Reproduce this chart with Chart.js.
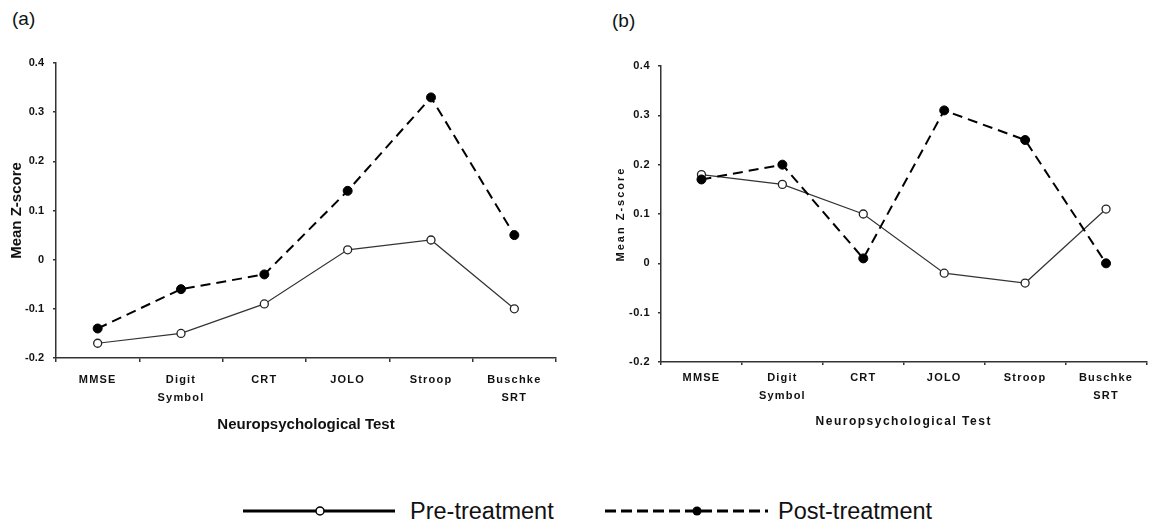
<!DOCTYPE html>
<html>
<head>
<meta charset="utf-8">
<script src="https://cdn.jsdelivr.net/npm/chart.js@4.4.1/dist/chart.umd.min.js"></script>
<style>
  body { margin: 0; background: #fff; width: 1152px; height: 529px; overflow: hidden; position: relative;
         font-family: "Liberation Sans", Arial, sans-serif; color: #111; }
  canvas { position: absolute; top: 0; }
  #ca { left: 0; }
  #cb { left: 576px; }
  .tag { position: absolute; font-size: 19px; }
  #legend { position: absolute; left: 0; top: 490px; }
</style>
</head>
<body>
<div class="tag" style="left:12px;top:8px">(a)</div>
<div class="tag" style="left:612px;top:10px">(b)</div>
<canvas id="ca" width="576" height="460"></canvas>
<canvas id="cb" width="576" height="460"></canvas>
<svg id="legend" width="1152" height="39"></svg>
<script>
// Две панели (a) и (b): средние Z-оценки до и после лечения
const TESTS = ["MMSE", ["Digit", "Symbol"], "CRT", "JOLO", "Stroop", ["Buschke", "SRT"]];
const SERIES = ["Pre-treatment", "Post-treatment"];
const PRE_A = [-0.17, -0.15, -0.09, 0.02, 0.04, -0.10];
const POST_A = [-0.14, -0.06, -0.03, 0.14, 0.33, 0.05];
const PRE_B = [0.18, 0.16, 0.10, -0.02, -0.04, 0.11];
const POST_B = [0.17, 0.20, 0.01, 0.31, 0.25, 0.00];
const Y_MIN = -0.2, Y_MAX = 0.4, Y_STEP = 0.1;
const X_TITLE = "Neuropsychological Test";
const Y_TITLE = "Mean Z-score";

const FONT = '"Liberation Sans", Arial, sans-serif';
const INK = "#111", AXIS = "#333";
const H = 460;

// letterSpacing для подписей/заголовков отдельных осей
function wrap(scale, fn, px) {
  const orig = scale[fn];
  scale[fn] = function (...a) {
    this.ctx.letterSpacing = (px || 0) + "px";
    orig.apply(this, a);
    this.ctx.letterSpacing = "0px";
  };
}
const spacing = {
  id: "spacing",
  beforeDraw(chart, args, opts) {
    for (const id of ["x", "y"]) {
      const s = chart.scales[id], cfg = opts[id];
      if (!s || !cfg || s._spaced) continue;
      s._spaced = true;
      wrap(s, "drawLabels", cfg.labels);
      wrap(s, "drawTitle", cfg.title);
    }
  }
};

function panel(id, pre, post, L) {
  return new Chart(document.getElementById(id), {
    type: "line",
    data: {
      labels: TESTS,
      datasets: [
        { label: SERIES[1], data: post, borderColor: "#000", borderWidth: 2, borderDash: [10, 6],
          pointRadius: 4.5, pointBackgroundColor: "#000", pointBorderColor: "#000", pointBorderWidth: 1, tension: 0 },
        { label: SERIES[0], data: pre, borderColor: "#333", borderWidth: 1.2,
          pointRadius: 4, pointBackgroundColor: "#fff", pointBorderColor: "#222", pointBorderWidth: 1.3, tension: 0 },
      ],
    },
    options: {
      responsive: false,
      animation: false,
      devicePixelRatio: 1,
      clip: false,
      layout: { padding: { left: 0, top: L.top, right: L.right, bottom: 0 } },
      plugins: {
        legend: { display: false },
        tooltip: { enabled: false },
        spacing: L.spacing,
      },
      scales: {
        x: {
          offset: true,
          border: { display: true, color: AXIS, width: 1.5 },
          grid: { offset: true, drawOnChartArea: false, tickLength: L.xTick, color: AXIS, lineWidth: 1.5 },
          ticks: { padding: L.xPad, color: INK, maxRotation: 0, autoSkip: false,
                   font: { family: FONT, size: 11, weight: "bold", lineHeight: "18px" } },
          title: { display: true, text: X_TITLE, color: INK,
                   font: { family: FONT, size: L.xTitleSize, weight: "bold" }, padding: { top: 0, bottom: L.xTitlePad } },
          afterFit(s) { s.height = H - L.bottom; },
        },
        y: {
          min: Y_MIN, max: Y_MAX,
          border: { display: true, color: AXIS, width: 1.5 },
          grid: { drawOnChartArea: false, tickLength: 3, color: AXIS, lineWidth: 1.5 },
          ticks: { stepSize: Y_STEP, padding: L.yPad, color: INK,
                   font: { family: FONT, size: 11, weight: "bold" },
                   callback: (v) => String(Math.round(v * 10) / 10) },
          title: { display: true, text: Y_TITLE, color: INK,
                   font: { family: FONT, size: L.yTitleSize, weight: "bold" }, padding: { top: L.yTitlePad } },
          afterFit(s) { s.width = L.left; },
        },
      },
    },
    plugins: [spacing],
  });
}

panel("ca", PRE_A, POST_A, {
  left: 56, top: 63, right: 20, bottom: 358, xTick: 4, xPad: 9, yPad: 9,
  xTitleSize: 15, xTitlePad: 26, yTitleSize: 15, yTitlePad: 8,
  spacing: { x: { labels: 1.2, title: 0 }, y: { labels: 0, title: 0 } },
});
panel("cb", PRE_B, POST_B, {
  left: 85, top: 66, right: 5, bottom: 362, xTick: 3, xPad: 4, yPad: 8,
  xTitleSize: 12, xTitlePad: 31, yTitleSize: 11, yTitlePad: 38,
  spacing: { x: { labels: 1.2, title: 1.5 }, y: { labels: 0.5, title: 2 } },
});

// легенда внизу: линия с маркером + подпись
(function legend() {
  const svg = document.getElementById("legend");
  const y = 21;
  const txt = (x, s) => '<text x="' + x + '" y="' + (y + 8) + '" font-size="23.5" font-family=\'' + FONT +
    '\' fill="#111">' + s + '</text>';
  svg.innerHTML =
    '<line x1="243" y1="' + y + '" x2="395" y2="' + y + '" stroke="#000" stroke-width="3"/>' +
    '<circle cx="320" cy="' + y + '" r="4" fill="#fff" stroke="#000" stroke-width="1.5"/>' +
    txt(410, SERIES[0]) +
    '<line x1="605" y1="' + y + '" x2="768" y2="' + y + '" stroke="#000" stroke-width="3" stroke-dasharray="11 5"/>' +
    '<circle cx="697" cy="' + y + '" r="4.5" fill="#000"/>' +
    txt(778, SERIES[1]);
})();
</script>
</body>
</html>
